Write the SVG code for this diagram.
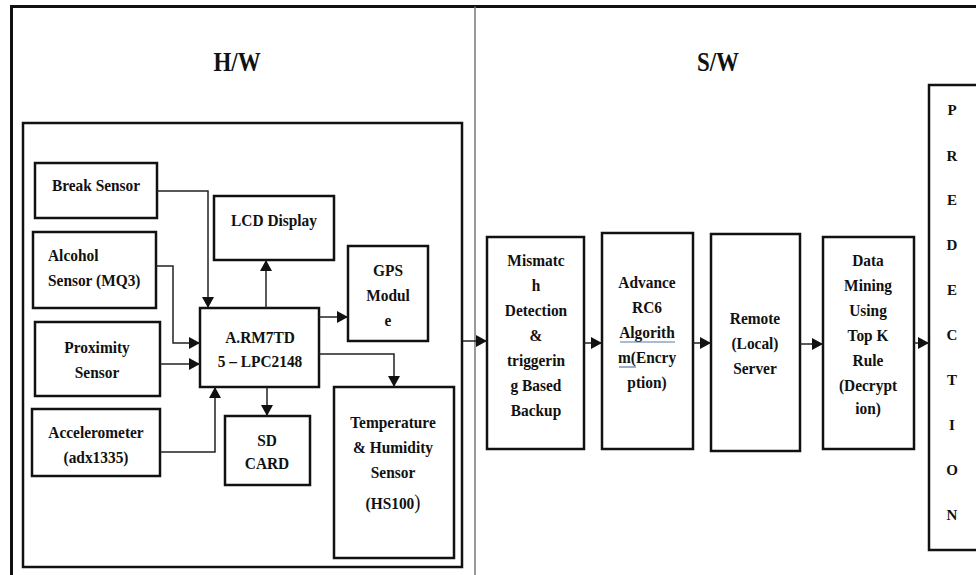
<svg xmlns="http://www.w3.org/2000/svg" width="976" height="575" viewBox="0 0 976 575">
<style>
text{font-family:"Liberation Serif","Times New Roman",serif;font-weight:bold;fill:#111;font-size:17.5px;text-anchor:middle;transform-box:fill-box;transform-origin:center;transform:scaleX(0.88)}
.box{fill:#fff;stroke:#111;stroke-width:2.5}
.con{fill:none;stroke:#222;stroke-width:1.5}
.title{font-size:27px;transform:scaleX(0.85)}
.pl{font-size:15px;transform:none}
.st{text-anchor:start;transform-origin:left center}
</style>
<defs>
<marker id="ah" markerUnits="userSpaceOnUse" markerWidth="11" markerHeight="12" refX="11" refY="6" orient="auto">
<path d="M0,0 L11,6 L0,12 z" fill="#111"/>
</marker>
</defs>
<rect x="0" y="0" width="976" height="575" fill="#fff"/>
<g id="frame">
<path d="M11.5,575 V6.5 H976" fill="none" stroke="#111" stroke-width="3"/>
<line x1="475" y1="6.5" x2="475" y2="575" stroke="#777" stroke-width="1.5"/>
<text class="title" x="237" y="71">H/W</text>
<text class="title" x="718" y="71">S/W</text>
</g>
<g id="hw-box"><rect class="box" x="23" y="123" width="439" height="444"/></g>
<g id="break"><rect class="box" x="35" y="163" width="122" height="55"/><text x="96" y="191">Break Sensor</text></g>
<g id="alcohol"><rect class="box" x="33" y="232" width="123" height="76"/><text class="st" x="48" y="261">Alcohol</text><text class="st" x="48" y="286">Sensor (MQ3)</text></g>
<g id="proximity"><rect class="box" x="35" y="322" width="125" height="74"/><text x="97" y="353">Proximity</text><text x="97" y="378">Sensor</text></g>
<g id="accel"><rect class="box" x="32" y="409" width="128" height="67"/><text x="96" y="438">Accelerometer</text><text x="96" y="463">(adx1335)</text></g>
<g id="lcd"><rect class="box" x="214" y="196" width="120" height="64"/><text x="274" y="226">LCD Display</text></g>
<g id="gps"><rect class="box" x="348" y="246" width="80" height="95"/><text x="388" y="276">GPS</text><text x="388" y="301">Modul</text><text x="388" y="326">e</text></g>
<g id="arm"><rect class="box" x="200" y="308" width="119" height="79"/><text x="260" y="343">A.RM7TD</text><text x="260" y="367">5 – LPC2148</text></g>
<g id="sd"><rect class="box" x="225" y="416" width="85" height="69"/><text x="267" y="446">SD</text><text x="267" y="469">CARD</text></g>
<g id="temp"><rect class="box" x="334" y="387" width="120" height="171"/><text x="393" y="428">Temperature</text><text x="393" y="453">&amp; Humidity</text><text x="393" y="478">Sensor</text><text x="393" y="509">(HS100<tspan style="font-size:21px;font-weight:normal">)</tspan></text></g>
<g id="mismatch"><rect class="box" x="487" y="237" width="97" height="212"/><text x="536" y="266">Mismatc</text><text x="536" y="291">h</text><text x="536" y="316">Detection</text><text x="536" y="341">&amp;</text><text x="536" y="366">triggerin</text><text x="536" y="391">g Based</text><text x="536" y="416">Backup</text></g>
<g id="rc6"><rect class="box" x="602" y="233" width="91" height="216"/><text x="647" y="288">Advance</text><text x="647" y="313">RC6</text><text x="647" y="338">Algorith</text><text x="647" y="363">m(Encry</text><text x="647" y="388">ption)</text>
<line x1="620" y1="342" x2="675" y2="342" stroke="#5a78a8" stroke-width="1.2"/><line x1="619" y1="367" x2="636" y2="367" stroke="#5a78a8" stroke-width="1.2"/></g>
<g id="remote"><rect class="box" x="711" y="234" width="89" height="217"/><text x="755" y="324">Remote</text><text x="755" y="349">(Local)</text><text x="755" y="374">Server</text></g>
<g id="mining"><rect class="box" x="823" y="237" width="91" height="212"/><text x="868" y="266">Data</text><text x="868" y="291">Mining</text><text x="868" y="316">Using</text><text x="868" y="341">Top K</text><text x="868" y="366">Rule</text><text x="868" y="391">(Decrypt</text><text x="868" y="414">ion)</text></g>
<g id="prediction"><rect class="box" x="929" y="85" width="60" height="465"/>
<text class="pl" x="952" y="115">P</text><text class="pl" x="952" y="161">R</text><text class="pl" x="952" y="205">E</text><text class="pl" x="952" y="250">D</text><text class="pl" x="952" y="295">E</text><text class="pl" x="952" y="340">C</text><text class="pl" x="952" y="385">T</text><text class="pl" x="952" y="430">I</text><text class="pl" x="952" y="475">O</text><text class="pl" x="952" y="520">N</text></g>
<g id="connectors">
<path class="con" marker-end="url(#ah)" d="M157,191 H208 V308"/>
<path class="con" marker-end="url(#ah)" d="M156,266 H173 V343 H200"/>
<path class="con" marker-end="url(#ah)" d="M160,364 H200"/>
<path class="con" marker-end="url(#ah)" d="M160,452 H215 V387"/>
<path class="con" marker-end="url(#ah)" d="M266,308 V260"/>
<path class="con" marker-end="url(#ah)" d="M319,317 H348"/>
<path class="con" marker-end="url(#ah)" d="M319,354 H394 V387"/>
<path class="con" marker-end="url(#ah)" d="M267,387 V416"/>
<path class="con" marker-end="url(#ah)" d="M463,341 H487"/>
<path class="con" marker-end="url(#ah)" d="M584,343 H602"/>
<path class="con" marker-end="url(#ah)" d="M693,343 H711"/>
<path class="con" marker-end="url(#ah)" d="M800,344 H823"/>
<path class="con" marker-end="url(#ah)" d="M914,343 H929"/>
</g>
</svg>
